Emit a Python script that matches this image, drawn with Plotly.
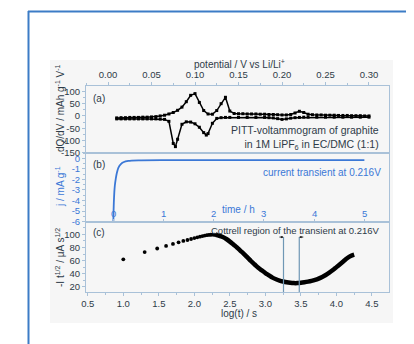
import plotly.graph_objects as go

# ---------------- data ----------------
# (a) PITT voltammogram: delithiation (upper) branch
pot_up = [0.010, 0.015, 0.020, 0.025, 0.030, 0.035, 0.040, 0.045, 0.050, 0.055,
          0.060, 0.065, 0.070, 0.075, 0.080, 0.085, 0.090, 0.095, 0.100, 0.105,
          0.110, 0.115, 0.120, 0.125, 0.130, 0.135, 0.140, 0.145, 0.150, 0.155,
          0.160, 0.165, 0.170, 0.175, 0.180, 0.185, 0.190, 0.195, 0.200, 0.205,
          0.210, 0.215, 0.220, 0.225, 0.230, 0.235, 0.240, 0.245, 0.250, 0.255,
          0.260, 0.265, 0.270, 0.275, 0.280, 0.285, 0.290, 0.295, 0.300]
dqdv_up = [-8, -7, -7, -6, -6, -6, -5, -5, -4, -3,
           0, 3, 8, 14, 23, 36, 58, 84, 91, 55,
           22, 8, 7, 22, 50, 76, 20, 10, 9, 9,
           8, 8, 8, 7, 7, 6, 6, 5, 4, 4,
           6, 12, 19, 14, 7, 5, 4, 4, 3, 3,
           3, 2, 2, 2, 1, 1, 1, 0, 0]
# (a) lithiation (lower) branch
pot_dn = [0.300, 0.290, 0.280, 0.270, 0.260, 0.250, 0.240, 0.230, 0.225, 0.220,
          0.215, 0.210, 0.205, 0.200, 0.195, 0.190, 0.185, 0.180, 0.170, 0.160,
          0.150, 0.140, 0.135, 0.130, 0.125, 0.120, 0.115, 0.113, 0.110, 0.105,
          0.100, 0.095, 0.090, 0.085, 0.080, 0.0775, 0.075, 0.070, 0.065, 0.060,
          0.055, 0.050, 0.045, 0.040, 0.035, 0.030, 0.025, 0.020, 0.015, 0.010]
dqdv_dn = [-5, -5, -5, -5, -5, -5, -5, -5, -5, -6,
           -7, -9, -12, -14, -11, -8, -7, -6, -6, -6,
           -6, -6, -6, -7, -10, -30, -72, -78, -68, -46,
           -32, -25, -24, -34, -95, -125, -112, -22, -14, -13,
           -12, -12, -12, -12, -12, -12, -12, -12, -12, -12]

# (b) current transient at 0.216 V
time_h = [0.0, 0.005, 0.01, 0.02, 0.03, 0.05, 0.07, 0.10, 0.15, 0.20,
          0.30, 0.50, 1.0, 2.0, 3.0, 4.0, 5.0]
j_mAg = [-6.1, -5.0, -4.2, -3.2, -2.6, -1.9, -1.4, -0.9, -0.55, -0.38,
         -0.25, -0.2, -0.18, -0.17, -0.17, -0.17, -0.17]
time_ticks = [0, 1, 2, 3, 4, 5]

# (c) Cottrell plot, sparse early points (t = 10 ... 200 s)
logt_early = [1.000, 1.301, 1.477, 1.602, 1.699, 1.778, 1.845, 1.903, 1.954, 2.000,
              2.041, 2.079, 2.114, 2.146, 2.176, 2.204, 2.230, 2.255, 2.279, 2.301]
it_early = [62, 73, 78.5, 82.5, 85.5, 88, 90, 91.5, 93, 94.5,
            95.5, 96.5, 97.5, 98.2, 98.8, 99.2, 99.5, 99.6, 99.5, 99.3]
# (c) dense later part
logt_late = [2.30, 2.35, 2.40, 2.45, 2.50, 2.55, 2.60, 2.65, 2.70, 2.75,
             2.80, 2.85, 2.90, 2.95, 3.00, 3.05, 3.10, 3.15, 3.20, 3.25,
             3.30, 3.35, 3.40, 3.45, 3.50, 3.55, 3.60, 3.65, 3.70, 3.75,
             3.80, 3.85, 3.90, 3.95, 4.00, 4.05, 4.10, 4.15, 4.20, 4.25]
it_late = [99.3, 98, 96, 93, 89, 84.5, 80, 75, 70, 64.5,
           59, 54, 49, 45, 41, 37.5, 34, 31.5, 29.5, 28,
           26.8, 26, 25.6, 25.6, 26, 26.8, 27.8, 29, 30.5, 32.5,
           35, 38, 41.5, 45.5, 50, 54.5, 59, 63.5, 67, 69]
cottrell_bounds = [3.255, 3.477]

# ---------------- styling ----------------
AX = "#a9c1d8"
TXT = "#2e3b48"
BLUE = "#3b78d6"
FONT = "Liberation Sans, Arial, sans-serif"

OFF = 8  # page body margin offset
W, H = 414 - OFF, 344 - OFF
L, T = 86 - OFF, 86 - OFF
R, B = W - (389 - OFF), H - (292 - OFF)
PW, PH = W - L - R, H - T - B


def px(x):
    return (x - OFF - L) / PW


def py(y):
    return (T + PH - (y - OFF)) / PH


fig = go.Figure()

fig.add_trace(go.Scatter(x=pot_up, y=dqdv_up, xaxis="x", yaxis="y", mode="lines+markers",
                         line=dict(color="black", width=1.5),
                         marker=dict(symbol="square", size=3, color="black"),
                         showlegend=False))
fig.add_trace(go.Scatter(x=pot_dn, y=dqdv_dn, xaxis="x", yaxis="y", mode="lines+markers",
                         line=dict(color="black", width=1.5),
                         marker=dict(symbol="square", size=3, color="black"),
                         showlegend=False))
fig.add_trace(go.Scatter(x=time_h, y=j_mAg, xaxis="x2", yaxis="y2", mode="lines",
                         line=dict(color=BLUE, width=1.8, shape="spline", smoothing=0.6),
                         showlegend=False))
fig.add_trace(go.Scatter(x=logt_early, y=it_early, xaxis="x3", yaxis="y3", mode="markers",
                         marker=dict(size=3.8, color="black"), showlegend=False))
fig.add_trace(go.Scatter(x=logt_late, y=it_late, xaxis="x3", yaxis="y3", mode="lines",
                         line=dict(color="black", width=4.5, shape="spline"),
                         showlegend=False))
for xb in cottrell_bounds:
    fig.add_trace(go.Scatter(x=[xb, xb], y=[12, 96], xaxis="x3", yaxis="y3", mode="lines",
                             line=dict(color="#6f97b5", width=1.2), showlegend=False))

dom_a = [py(153), 1.0]
dom_b = [py(222), py(153)]
dom_c = [0.0, py(222)]

common = dict(showline=True, linecolor=AX, linewidth=1, mirror=True, showgrid=False,
              zeroline=False, ticks="outside", ticklen=3, tickcolor=AX, automargin=False,
              tickfont=dict(size=9.5, color=TXT, family=FONT))

fig.update_layout(
    width=W, height=H,
    margin=dict(l=L, r=R, t=T, b=B, autoexpand=False),
    paper_bgcolor="white", plot_bgcolor="white",
    font=dict(family=FONT, color=TXT, size=10),
    xaxis=dict(common, domain=[0, 1], anchor="y", side="top", range=[-0.0253, 0.323],
               tickvals=[0.0, 0.05, 0.10, 0.15, 0.20, 0.25, 0.30], tickformat=".2f",
               minor=dict(ticks="outside", ticklen=2, dtick=0.025, tickcolor=AX)),
    yaxis=dict(common, domain=dom_a, anchor="x", range=[-151, 122],
               tickvals=[-150, -100, -50, 0, 50, 100],
               ticktext=["-150", "-100", "-50", "0", "50", "100"],
               minor=dict(ticks="outside", ticklen=2, dtick=25, tickcolor=AX)),
    xaxis2=dict(common, domain=[0, 1], anchor="y2", range=[-0.544, 5.49],
                tickvals=time_ticks, ticks="inside", showticklabels=False),
    yaxis2=dict(common, domain=dom_b, anchor="x2", range=[-6.03, 0.5],
                tickvals=[-6, -5, -4, -3, -2, -1, 0],
                ticktext=["-6", "-5", "-4", "-3", "-2", "-1", "0"],
                tickfont=dict(size=9.5, color=BLUE, family=FONT),
                minor=dict(ticks="outside", ticklen=2, dtick=0.5, tickcolor=AX)),
    xaxis3=dict(common, domain=[0, 1], anchor="y3", range=[0.475, 4.74],
                tickvals=[0.5, 1.0, 1.5, 2.0, 2.5, 3.0, 3.5, 4.0, 4.5], tickformat=".1f",
                minor=dict(ticks="outside", ticklen=2, dtick=0.25, tickcolor=AX)),
    yaxis3=dict(common, domain=dom_c, anchor="x3", range=[12, 119],
                tickvals=[20, 40, 60, 80, 100],
                minor=dict(ticks="outside", ticklen=2, dtick=10, tickcolor=AX)),
)

shapes = [
    dict(type="rect", xref="paper", yref="paper", x0=px(50), x1=px(393), y0=py(323), y1=py(60),
         fillcolor="#f6f6f6", line=dict(width=0), layer="below"),
    dict(type="line", xref="paper", yref="paper", x0=px(28), x1=px(414), y0=py(11.5), y1=py(11.5),
         line=dict(color="#3c7cc6", width=2)),
    dict(type="line", xref="paper", yref="paper", x0=px(28.5), x1=px(28.5), y0=py(11), y1=py(344),
         line=dict(color="#3c7cc6", width=2)),
]
fig.update_layout(shapes=shapes)


def ann(text, x, y, xanchor="center", yanchor="middle", color=TXT, size=10, angle=0, align="left"):
    fig.add_annotation(text=text, x=px(x), y=py(y), xref="paper", yref="paper",
                       xanchor=xanchor, yanchor=yanchor, showarrow=False, textangle=angle,
                       align=align, font=dict(family=FONT, size=size, color=color))


ann("potential / V vs Li/Li<sup>+</sup>", 239, 64.5)
ann("(a)", 91, 98, xanchor="left")
ann("PITT-voltammogram of graphite<br>in 1M LiPF<sub>6</sub> in EC/DMC (1:1)", 381, 137.5,
    xanchor="right", align="right", size=10.5)
ann("(b)", 91, 164, xanchor="left")
ann("current transient at 0.216V", 383, 172.5, xanchor="right", color=BLUE, size=10)
ann("time / h", 238, 209, color=BLUE)
ann("(c)", 91, 232, xanchor="left")
ann("Cottrell region of the transient at 0.216V", 382, 230, xanchor="right", size=9.5)
ann("log(t) / s", 239, 313)
ann("dQ/dV / mAh g<sup>-1</sup> V<sup>-1</sup>", 60, 108, angle=-90)
ann("j / mA g<sup>-1</sup>", 60, 187, angle=-90, color=BLUE)
ann("-I t<sup>1/2</sup> / μA s<sup>1/2</sup>", 60, 258, angle=-90)

# time-axis tick labels drawn inside panel (b)
for tv in time_ticks:
    fig.add_annotation(text=str(tv), x=tv, xref="x2", y=py(213.5), yref="paper",
                       showarrow=False, xanchor="center", yanchor="middle",
                       font=dict(family=FONT, size=9.5, color=BLUE))

# Cottrell region markers
fig.add_annotation(x=cottrell_bounds[0], y=96, xref="x3", yref="y3", ax=-7, ay=0,
                   showarrow=True, arrowhead=2, arrowsize=0.5, arrowwidth=0.9, arrowcolor="black")
fig.add_annotation(x=cottrell_bounds[1], y=96, xref="x3", yref="y3", ax=7, ay=0,
                   showarrow=True, arrowhead=2, arrowsize=0.5, arrowwidth=0.9, arrowcolor="black")

fig.write_html("out.html")
